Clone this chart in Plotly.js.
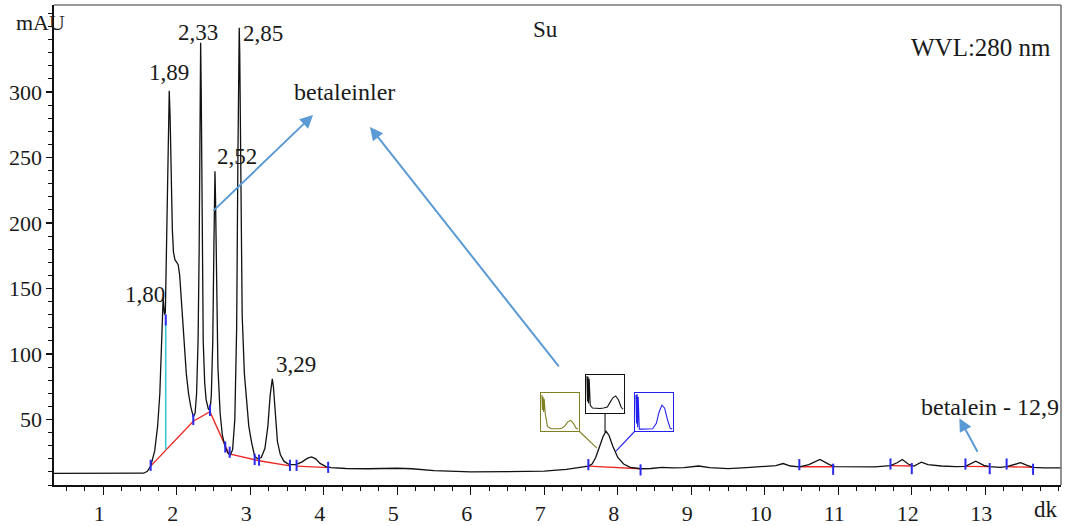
<!DOCTYPE html>
<html>
<head>
<meta charset="utf-8">
<script src="https://cdn.plot.ly/plotly-3.0.1.min.js"></script>
<style>html,body{margin:0;padding:0;background:#fff}#chart{width:1067px;height:526px}</style>
</head>
<body>
<div id="chart"></div>
<script>
// ---- chromatogram signal (retention time, min / absorbance, mAU) ----
const time = [0.33,1.0,1.5,1.55,1.60,1.645,1.70,1.74,1.77,1.79,1.805,1.815,1.825,1.835,1.845,1.86,1.875,1.89,1.898,1.91,1.925,1.94,1.955,1.975,2.0,2.02,2.04,2.07,2.10,2.13,2.16,2.19,2.225,2.25,2.27,2.29,2.305,2.318,2.325,2.333,2.345,2.36,2.38,2.40,2.43,2.452,2.47,2.49,2.505,2.515,2.52,2.527,2.54,2.56,2.59,2.62,2.66,2.70,2.73,2.76,2.79,2.815,2.832,2.845,2.85,2.857,2.87,2.89,2.92,2.95,2.98,3.02,3.06,3.10,3.15,3.20,3.24,3.27,3.29,3.30,3.315,3.34,3.37,3.41,3.46,3.52,3.56,3.62,3.70,3.78,3.835,3.89,3.95,4.03,4.1,4.3,4.6,5.0,5.2,5.5,6.0,6.5,7.0,7.3,7.5,7.6,7.65,7.70,7.75,7.80,7.84,7.88,7.93,8.0,8.08,8.17,8.31,8.45,8.6,8.75,8.9,9.1,9.25,9.5,9.75,10.0,10.15,10.25,10.35,10.47,10.6,10.75,10.88,10.95,11.2,11.5,11.71,11.8,11.87,11.95,12.03,12.13,12.22,12.4,12.6,12.73,12.87,12.98,13.06,13.2,13.29,13.4,13.48,13.57,13.65,13.8,14.03];
const mAU  = [8.8,8.8,8.8,9.0,10.5,14.4,26,45,70,100,130,143,135,130,132,175,240,290,301,280,230,195,178,172,170,168,160,135,108,85,70,60,52,55,70,110,180,290,337.5,300,180,110,78,65,58,57,68,110,180,230,239.5,220,150,90,55,38,29,24,23,27,50,120,250,340,349,330,220,130,85,62,45,32,22,20,21,28,45,68,79,81,75,52,33,23,18,16,15.5,15.5,17.5,20.5,21.5,20,16.5,14,13.2,12.6,12.4,12.8,12.4,11,10,10.2,10.6,12,13.5,14.4,16,21,29,37,41,38,30,21,16,13.5,12.4,12.6,13.5,13,13.2,14.5,13.2,12.5,13.2,13.9,14.8,16.4,14.5,13.9,15.5,19.5,15.5,14,14,13.8,14.8,17,19.5,16,14.5,17.4,15.5,14.5,14,14.2,18.2,15,14,13.5,14,15.5,17,15,13.5,13,13];

// integration baselines (red), separated by gaps
const baseT = [1.645,2.225,2.452,2.70,2.73,3.06,3.12,3.54,null,3.63,4.06,null,7.60,8.31,null,10.47,10.93,null,11.71,12.0,null,12.73,13.06,null,13.29,13.65];
const baseV = [14.4,48.7,56,25,23.5,19,18.5,14.6,null,14.4,13.3,null,14.4,12.4,null,13.9,13.9,null,14.8,14.5,null,14.2,14.0,null,14.0,13.5];

// peak start/end marks (blue)
const markT = [1.645,1.85,2.225,2.452,2.66,2.72,3.06,3.12,3.54,3.63,4.06,7.60,8.31,10.47,10.93,11.71,12.0,12.73,13.06,13.29,13.65];
const markV = [15,126,50,57,29,25,19.5,19,15,15,13.5,15.5,11.5,15.5,12,16,12.5,16,12.5,16,12];

// peak split drop line (cyan)
const dropT = [1.85,1.85];
const dropV = [27,125];

// labelled peaks
const peakText = ['1,80','1,89','2,33','2,52','2,85','3,29'];
const peakT = [1.815,1.898,2.325,2.52,2.85,3.30];
const peakV = [143,301,337.5,239.5,349,81];
const peakDx = [-18,0,-3,22,24,24];
const peakDy = [3,18,10,15,-6,14];

// UV spectra shown in the three peak-purity boxes (normalised)
const specNm    = [210,213,216,219,222,225,228,240,260,280,300,320,335,350,365,380,395,405];
const specOlive = [0.95,0.55,0.9,0.5,0.85,0.6,0.45,0.12,0.06,0.06,0.06,0.08,0.14,0.24,0.28,0.2,0.07,0.05];
const specBlack = [0.97,0.3,0.95,0.25,0.9,0.3,0.2,0.13,0.12,0.12,0.13,0.16,0.28,0.4,0.45,0.35,0.15,0.1];
const specBlue  = [0.95,0.2,0.97,0.1,0.9,0.3,0.05,0.05,0.05,0.05,0.06,0.2,0.5,0.68,0.6,0.3,0.07,0.05];

const FONT = 'Liberation Serif, Times New Roman, serif';
const TXT = '#1a1a1a';

const traces = [
  {x: baseT, y: baseV, mode: 'lines', line: {color: '#ee2a24', width: 1.4}, connectgaps: false, hoverinfo: 'skip'},
  {x: time, y: mAU, mode: 'lines', line: {color: '#111', width: 1.3}},
  {x: dropT, y: dropV, mode: 'lines', line: {color: '#3cc8d0', width: 1.6}},
  {x: markT, y: markV, mode: 'markers', marker: {symbol: 'line-ns', size: 8, line: {color: '#2a2af0', width: 2}}},
  {x: specNm, y: specOlive, xaxis: 'x2', yaxis: 'y2', mode: 'lines', line: {color: '#808022', width: 1.1}},
  {x: specNm, y: specBlack, xaxis: 'x3', yaxis: 'y3', mode: 'lines', line: {color: '#111', width: 1.1}},
  {x: specNm, y: specBlue, xaxis: 'x4', yaxis: 'y4', mode: 'lines', line: {color: '#2020f0', width: 1.1}}
];

function inset(domX, domY, color) {
  return [
    {domain: domX, range: [205, 410], showline: true, mirror: true, linecolor: color, linewidth: 1.3, showticklabels: false, ticks: '', showgrid: false, zeroline: false, fixedrange: true},
    {domain: domY, range: [0, 1], showline: true, mirror: true, linecolor: color, linewidth: 1.3, showticklabels: false, ticks: '', showgrid: false, zeroline: false, fixedrange: true}
  ];
}
const iOlive = inset([0.4836, 0.5213], [0.1125, 0.1917], '#808022');
const iBlack = inset([0.5283, 0.5660], [0.15, 0.2292], '#111');
const iBlue  = inset([0.5770, 0.6147], [0.1125, 0.1917], '#2020f0');

const annotations = [];
for (let i = 0; i < peakText.length; i++) {
  annotations.push({x: peakT[i], y: peakV[i], xref: 'x', yref: 'y', text: peakText[i], showarrow: false,
    xanchor: 'center', yanchor: 'middle', xshift: peakDx[i], yshift: peakDy[i], font: {family: FONT, size: 23, color: TXT}});
}
annotations.push(
  {xref: 'paper', yref: 'paper', x: -0.0139, y: 0.9625, text: 'mAU', showarrow: false, xanchor: 'center', yanchor: 'middle', font: {family: FONT, size: 22, color: TXT}},
  {xref: 'paper', yref: 'paper', x: 0.985, y: -0.052, text: 'dk', showarrow: false, xanchor: 'center', yanchor: 'middle', font: {family: FONT, size: 23, color: TXT}},
  {xref: 'paper', yref: 'paper', x: 0.488, y: 0.948, text: 'Su', showarrow: false, xanchor: 'center', yanchor: 'middle', font: {family: FONT, size: 23, color: TXT}},
  {xref: 'paper', yref: 'paper', x: 0.9925, y: 0.912, text: 'WVL:280 nm', showarrow: false, xanchor: 'right', yanchor: 'middle', font: {family: FONT, size: 25, color: TXT}},
  {xref: 'paper', yref: 'paper', x: 0.2364, y: 0.8188, text: 'betaleinler', showarrow: false, xanchor: 'left', yanchor: 'middle', font: {family: FONT, size: 24, color: TXT}},
  {xref: 'paper', yref: 'paper', x: 1.0, y: 0.1625, text: 'betalein - 12,9', showarrow: false, xanchor: 'right', yanchor: 'middle', font: {family: FONT, size: 24, color: TXT}},
  {x: 3.854, y: 282.4, xref: 'x', yref: 'y', ax: -101, ay: 97, text: '', showarrow: true, arrowhead: 2, arrowsize: 1.3, arrowwidth: 2, arrowcolor: '#5b9bd5'},
  {x: 4.629, y: 273.3, xref: 'x', yref: 'y', ax: 190, ay: 241, text: '', showarrow: true, arrowhead: 2, arrowsize: 1.3, arrowwidth: 2, arrowcolor: '#5b9bd5'},
  {x: 12.647, y: 50.9, xref: 'x', yref: 'y', ax: 19, ay: 35, text: '', showarrow: true, arrowhead: 2, arrowsize: 1.3, arrowwidth: 2, arrowcolor: '#5b9bd5'}
);

// frame and connector lines from purity boxes to the peak at ~7.85 min
const shapes = [
  {type: 'line', xref: 'paper', yref: 'paper', x0: 0, x1: 1, y0: 1, y1: 1, line: {color: '#777', width: 1.6}},
  {type: 'line', xref: 'paper', yref: 'paper', x0: 1, x1: 1, y0: 0, y1: 1, line: {color: '#777', width: 1.6}},
  {type: 'line', xref: 'paper', yref: 'paper', x0: 0.5213, y0: 0.1125, x1: 0.5392, y1: 0.0769, line: {color: '#808022', width: 1.1}},
  {type: 'line', xref: 'paper', yref: 'paper', x0: 0.5472, y0: 0.15, x1: 0.5472, y1: 0.1104, line: {color: '#111', width: 1.1}},
  {type: 'line', xref: 'paper', yref: 'paper', x0: 0.5770, y0: 0.1125, x1: 0.5581, y1: 0.0708, line: {color: '#2020f0', width: 1.1}}
];

const layout = {
  width: 1067, height: 526,
  margin: {l: 54, r: 6, t: 5, b: 41},
  paper_bgcolor: '#fff', plot_bgcolor: '#fff',
  showlegend: false,
  font: {family: FONT, color: TXT, size: 22},
  xaxis: {
    range: [0.33, 14.03], tickvals: [1,2,3,4,5,6,7,8,9,10,11,12,13],
    ticks: 'outside', ticklen: 8, tickwidth: 1.2, tickcolor: '#111',
    minor: {dtick: 0.25, tick0: 0, ticks: 'outside', ticklen: 4, tickcolor: '#111', tickwidth: 1},
    showline: true, linecolor: '#111', linewidth: 1.6, showgrid: false, zeroline: false,
    tickfont: {family: FONT, size: 22, color: TXT}, ticklabelshift: -4, ticklabelstandoff: 0
  },
  yaxis: {
    range: [0, 366.4], tickvals: [50,100,150,200,250,300],
    ticks: 'outside', ticklen: 6, tickwidth: 1.2, tickcolor: '#111',
    minor: {dtick: 10, tick0: 0, ticks: 'outside', ticklen: 4, tickcolor: '#111', tickwidth: 1},
    showline: true, linecolor: '#111', linewidth: 1.6, showgrid: false, zeroline: false,
    tickfont: {family: FONT, size: 22, color: TXT}, ticklabelstandoff: 0
  },
  xaxis2: Object.assign({anchor: 'y2'}, iOlive[0]), yaxis2: Object.assign({anchor: 'x2'}, iOlive[1]),
  xaxis3: Object.assign({anchor: 'y3'}, iBlack[0]), yaxis3: Object.assign({anchor: 'x3'}, iBlack[1]),
  xaxis4: Object.assign({anchor: 'y4'}, iBlue[0]),  yaxis4: Object.assign({anchor: 'x4'}, iBlue[1]),
  annotations: annotations,
  shapes: shapes
};

Plotly.newPlot('chart', traces, layout, {displayModeBar: false, staticPlot: true});
</script>
</body>
</html>
